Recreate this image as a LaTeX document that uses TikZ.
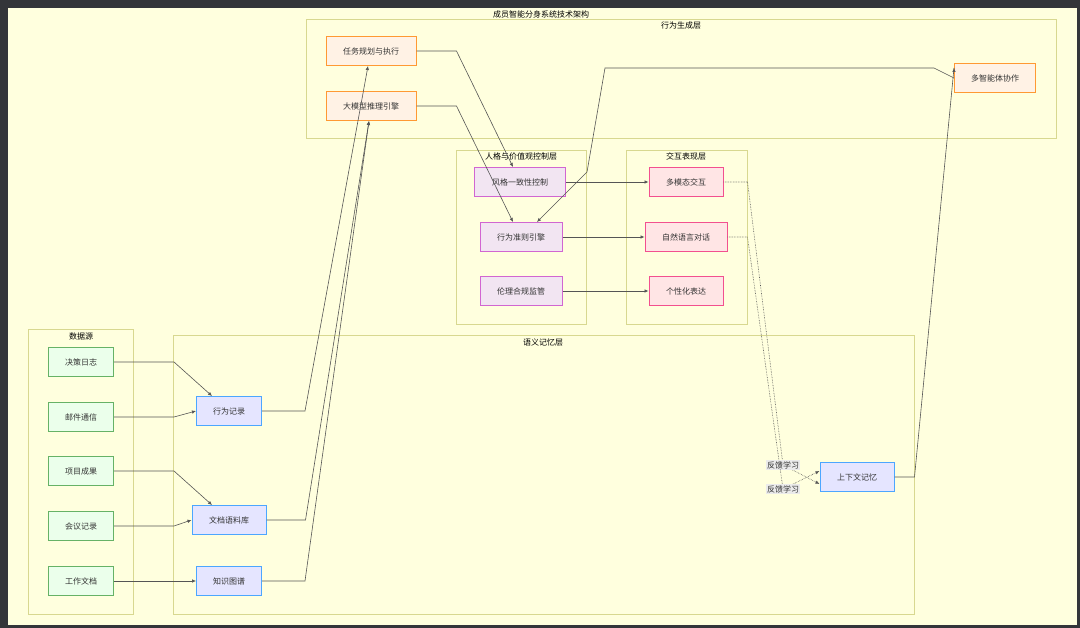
\documentclass[tikz,border=0pt]{standalone}
\usepackage{fontspec}
\newfontfamily\cjk{Noto Sans CJK SC}
\usetikzlibrary{positioning,arrows.meta}
\definecolor{canvas}{HTML}{FFFFDE}
\definecolor{frame}{HTML}{333539}
\definecolor{clus}{HTML}{D8D890}
\definecolor{edgec}{HTML}{555555}

\begin{document}
\begin{tikzpicture}[
    x=1pt, y=-1pt,
    >=Stealth,
    font=\cjk\fontsize{8}{9}\selectfont,
    box/.style={draw, line width=1pt, minimum height=29pt, inner sep=2pt, text=black!80},
    gen/.style={box, fill=orange!10, draw=orange!80},
    ctrl/.style={box, fill=violet!10, draw=violet!60!magenta!60},
    show/.style={box, fill=pink!40, draw=magenta!70!red!70},
    mem/.style={box, fill=blue!10, draw=blue!50!cyan!70},
    src/.style={box, fill=green!8, draw=green!50!black!60, minimum width=65pt},
    cluster/.style={draw=clus, line width=0.8pt},
    edge/.style={draw=edgec, line width=0.6pt, ->, >={Latex[length=4pt,width=3.5pt]}},
    fb/.style={edge, densely dotted},
    tag/.style={fill=black!8, inner sep=1pt, text=black!80}
]
\useasboundingbox (0,0) rectangle (1080,628);
\fill[frame] (0,0) rectangle (1080,628);
\fill[canvas] (8,8) rectangle (1077,625);
\node at (541,14) {成员智能分身系统技术架构};

% clusters
\draw[cluster] (306,19) rectangle (1056,138);
\node at (681,25) {行为生成层};
\draw[cluster] (456,150) rectangle (586,324);
\node at (521,156) {人格与价值观控制层};
\draw[cluster] (626,150) rectangle (747,324);
\node at (686,156) {交互表现层};
\draw[cluster] (28,329) rectangle (133,614);
\node at (81,336) {数据源};
\draw[cluster] (173,335) rectangle (914,614);
\node at (543,342) {语义记忆层};

% nodes
\node[gen, minimum width=90pt] (plan) at (371,51) {任务规划与执行};
\node[gen, minimum width=90pt] (llm) at (371,106) {大模型推理引擎};
\node[gen, minimum width=81pt] (multi) at (995,78) {多智能体协作};

\node[ctrl, minimum width=91pt] (style) at (520,182) {风格一致性控制};
\node[ctrl, minimum width=82pt] (rule) at (521,237) {行为准则引擎};
\node[ctrl, minimum width=82pt] (ethic) at (521,291) {伦理合规监管};

\node[show, minimum width=74pt] (modal) at (686,182) {多模态交互};
\node[show, minimum width=82pt] (nlp) at (686,237) {自然语言对话};
\node[show, minimum width=74pt] (person) at (686,291) {个性化表达};

\node[src] (log) at (81,362) {决策日志};
\node[src] (mail) at (81,417) {邮件通信};
\node[src] (proj) at (81,471) {项目成果};
\node[src] (meet) at (81,526) {会议记录};
\node[src] (work) at (81,581) {工作文档};

\node[mem, minimum width=65pt] (act) at (229,411) {行为记录};
\node[mem, minimum width=74pt] (doc) at (229,520) {文档语料库};
\node[mem, minimum width=65pt] (kg) at (229,581) {知识图谱};
\node[mem, minimum width=74pt] (ctx) at (857,477) {上下文记忆};

% edges
\draw[edge] (log.east) -- ++(60,0) -- ([xshift=-17pt]act.north);
\draw[edge] (mail.east) -- ++(60,0) -- (act.west);
\draw[edge] (proj.east) -- ++(60,0) -- ([xshift=-17pt]doc.north);
\draw[edge] (meet.east) -- ++(60,0) -- (doc.west);
\draw[edge] (work.east) -- (kg.west);

\draw[edge] (act.east) -- ++(43,0) -- ([xshift=-3pt]plan.south);
\draw[edge] (doc.east) -- ++(39,0) -- ([xshift=-2pt]llm.south);
\draw[edge] (kg.east) -- ++(43,0) -- ([xshift=-2pt]llm.south);

\draw[edge] (plan.east) -- ++(40,0) -- ([xshift=-7pt]style.north);
\draw[edge] (llm.east) -- ++(40,0) -- ([xshift=-8pt]rule.north);
\draw[edge] (multi.west) -- ++(-20,-10) -- (605,68) -- (587,172) -- ([xshift=16pt]rule.north);
\draw[edge] (ctx.east) -- ++(20,0) -- ([yshift=10pt]multi.west) ++(0,0);

\draw[edge] (style.east) -- (modal.west);
\draw[edge] (rule.east) -- (nlp.west);
\draw[edge] (ethic.east) -- (person.west);

\draw[fb] (modal.east) -- ++(24,0) -- (783,465) node[tag] {反馈学习} -- ([yshift=-7pt]ctx.west);
\draw[fb] (nlp.east) -- ++(20,0) -- (783,489) node[tag] {反馈学习} -- ([yshift=6pt]ctx.west);
\end{tikzpicture}
\end{document}
